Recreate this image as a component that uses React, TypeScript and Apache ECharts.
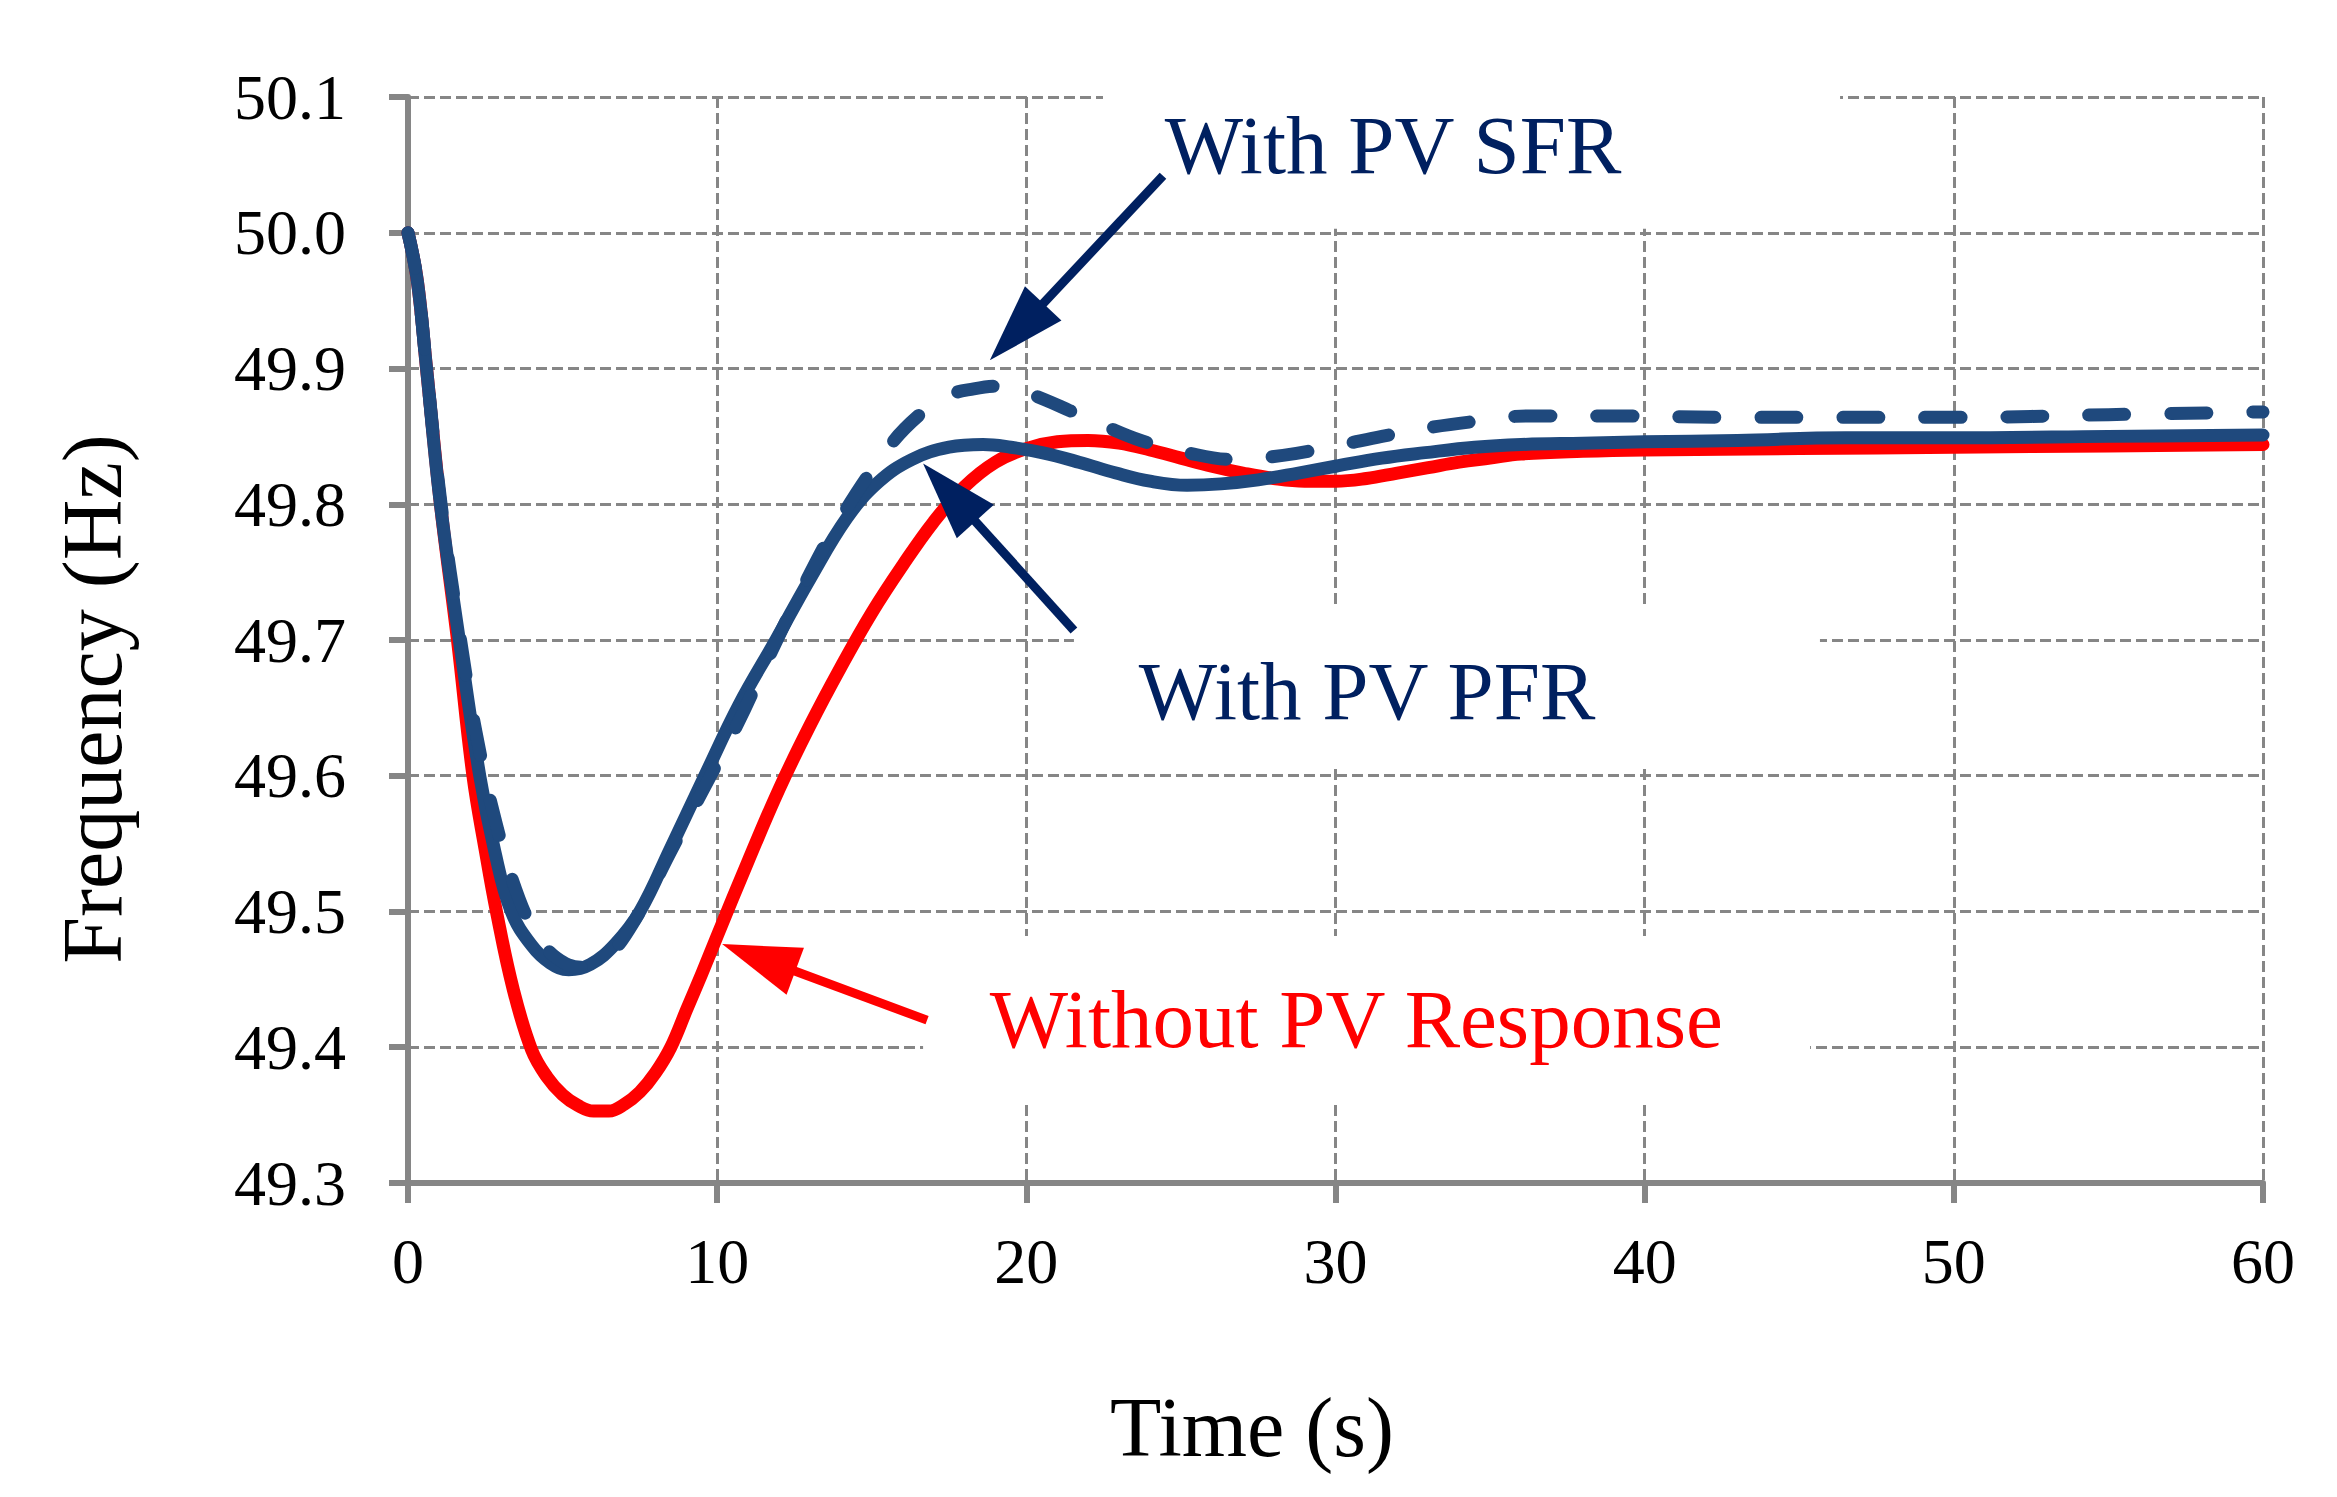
import { useEffect, useRef } from 'react'
import * as echarts from 'echarts'

// Time axis ticks (s) and frequency axis ticks (Hz)
const TIME_MIN = 0
const TIME_MAX = 60
const TIME_STEP = 10
const FREQ_MIN = 49.3
const FREQ_MAX = 50.1
const FREQ_STEP = 0.1

// Without PV Response (red)
const NOPV_T = [0, 0.3, 0.6, 1.05, 1.6, 2.1, 2.5, 2.86, 3.4, 4, 4.5, 5, 5.5, 6, 6.5, 7, 7.5, 8, 8.5, 9, 9.5, 10, 11, 12, 13, 14, 15, 16, 17, 18, 19, 20, 21, 22, 23, 24, 25, 26, 27, 28, 29, 30, 31, 32, 33, 34, 35, 36, 38, 40, 45, 50, 55, 60]
const NOPV_F = [50.0, 49.965, 49.9, 49.8, 49.7, 49.6, 49.545, 49.5, 49.443, 49.398, 49.378, 49.365, 49.357, 49.353, 49.353, 49.358, 49.367, 49.381, 49.4, 49.427, 49.454, 49.482, 49.537, 49.59, 49.637, 49.68, 49.72, 49.755, 49.787, 49.813, 49.831, 49.841, 49.846, 49.847, 49.845, 49.84, 49.834, 49.828, 49.823, 49.819, 49.817, 49.817, 49.819, 49.823, 49.827, 49.831, 49.834, 49.837, 49.839, 49.84, 49.841, 49.842, 49.843, 49.844]

// With PV PFR (solid blue)
const PFR_T = [0, 0.3, 0.6, 1.05, 1.66, 2.32, 2.8, 3.34, 4.0, 4.6, 5.2, 5.9, 6.7, 7.5, 8.5, 9.6, 10.7, 11.9, 13.0, 14.2, 15.2, 16.3, 17.5, 18.6, 19.5, 20.5, 21.7, 22.9, 24.0, 25.2, 26.3, 27.5, 28.8, 30, 31.5, 32.9, 34.5, 36, 38, 40, 43, 46.5, 50, 55, 60]
const PFR_F = [50.0, 49.965, 49.9, 49.8, 49.7, 49.6, 49.545, 49.5, 49.475, 49.462, 49.457, 49.461, 49.476, 49.5, 49.547, 49.6, 49.652, 49.7, 49.745, 49.79, 49.816, 49.833, 49.842, 49.844, 49.842, 49.838, 49.831, 49.823, 49.817, 49.814, 49.815, 49.818, 49.823, 49.828, 49.834, 49.838, 49.842, 49.844, 49.845, 49.846, 49.847, 49.849, 49.849, 49.85, 49.851]

// With PV SFR (dashed blue)
const SFR_T = [0, 0.3, 0.6, 1.07, 1.7, 2.2, 2.86, 3.6, 4.2, 4.8, 5.6, 6.4, 7.27, 8.56, 9.74, 10.7, 11.6, 12.8, 14.0, 15.55, 16.5, 17.46, 18.3, 19.1, 19.9, 20.6, 21.4, 22.5, 23.7, 25.2, 26.7, 28.3, 30, 31.5, 32.9, 34.5, 36.2, 39.4, 42.8, 45.7, 50, 55, 60]
const SFR_F = [50.0, 49.965, 49.9, 49.8, 49.7, 49.632, 49.564, 49.509, 49.482, 49.466, 49.459, 49.466, 49.491, 49.547, 49.598, 49.64, 49.684, 49.74, 49.79, 49.842, 49.865, 49.88, 49.885, 49.887, 49.883, 49.877, 49.869, 49.858, 49.847, 49.838, 49.833, 49.836, 49.843, 49.85, 49.856, 49.861, 49.865, 49.865, 49.864, 49.864, 49.864, 49.866, 49.868]

// Annotations, in data coordinates [time, frequency]
const LABELS = [
  { text: 'With PV SFR', at: [24.48, 50.0646], color: '#002060' },
  { text: 'With PV PFR', at: [23.64, 49.6624], color: '#002060' },
  { text: 'Without PV Response', at: [18.82, 49.421], color: '#FF0000' },
]
const ARROWS = [
  { tail: [24.42, 50.042], tip: [18.82, 49.906], color: '#002060' },
  { tail: [21.54, 49.707], tip: [16.66, 49.83], color: '#002060' },
  { tail: [16.79, 49.42], tip: [10.16, 49.476], color: '#FF0000' },
]
const BOXES = [
  { from: [22.48, 50.109], to: [46.32, 50.003] },
  { from: [21.54, 49.723], to: [45.67, 49.608] },
  { from: [16.66, 49.482], to: [45.35, 49.358] },
]

const FONT = '"Liberation Serif", "Times New Roman", serif'
const GRID_GRAY = '#868686'

const zip = (t: number[], f: number[]) => t.map((v, i) => [v, f[i]])

export default function App() {
  const chartRef = useRef<HTMLDivElement>(null)

  useEffect(() => {
    if (!chartRef.current) return
    const chart = echarts.init(chartRef.current, undefined, { renderer: 'svg' })

    const lineBase = {
      type: 'line' as const,
      showSymbol: false,
      symbol: 'none',
      smooth: 0.4,
      silent: true,
    }

    const option: echarts.EChartsOption = {
      animation: false,
      backgroundColor: '#ffffff',
      grid: { left: 408, right: 74, top: 97, bottom: 314, containLabel: false },
      xAxis: {
        type: 'value',
        min: TIME_MIN,
        max: TIME_MAX,
        interval: TIME_STEP,
        axisLine: { show: true, lineStyle: { color: GRID_GRAY, width: 6 } },
        axisTick: { show: true, inside: false, length: 20, lineStyle: { color: GRID_GRAY, width: 6 } },
        axisLabel: { color: '#000', fontSize: 64, fontFamily: FONT, margin: 46 },
        splitLine: { show: true, lineStyle: { color: GRID_GRAY, width: 3, type: [11, 5] } },
      },
      yAxis: {
        type: 'value',
        min: FREQ_MIN,
        max: FREQ_MAX,
        interval: FREQ_STEP,
        axisLine: { show: true, lineStyle: { color: GRID_GRAY, width: 6 } },
        axisTick: { show: true, inside: false, length: 19, lineStyle: { color: GRID_GRAY, width: 6 } },
        axisLabel: {
          color: '#000',
          fontSize: 64,
          fontFamily: FONT,
          margin: 62,
          formatter: (v: number) => v.toFixed(1),
        },
        splitLine: { show: true, lineStyle: { color: GRID_GRAY, width: 3, type: [11, 5] } },
      },
      series: [
        {
          ...lineBase,
          name: 'Without PV Response',
          data: zip(NOPV_T, NOPV_F),
          lineStyle: { color: '#FF0000', width: 13, cap: 'round', join: 'round' },
          z: 3,
        },
        {
          ...lineBase,
          name: 'With PV PFR',
          data: zip(PFR_T, PFR_F),
          lineStyle: { color: '#1F497D', width: 13, cap: 'round', join: 'round' },
          z: 4,
        },
        {
          ...lineBase,
          name: 'With PV SFR',
          data: zip(SFR_T, SFR_F),
          lineStyle: { color: '#1F497D', width: 13, type: [36, 46], cap: 'round', join: 'round' },
          z: 5,
        },
      ],
    }

    chart.setOption(option)

    const px = (p: number[]) => chart.convertToPixel({ gridIndex: 0 }, p) as number[]

    const graphics: any[] = []

    BOXES.forEach((b) => {
      const a = px(b.from)
      const c = px(b.to)
      graphics.push({
        type: 'rect',
        silent: true,
        z: 1,
        shape: { x: a[0], y: a[1], width: c[0] - a[0], height: c[1] - a[1] },
        style: { fill: '#ffffff' },
      })
    })

    ARROWS.forEach((ar) => {
      const tail = px(ar.tail)
      const tip = px(ar.tip)
      const dx = tip[0] - tail[0]
      const dy = tip[1] - tail[1]
      const len = Math.hypot(dx, dy)
      const ux = dx / len
      const uy = dy / len
      const headLen = 78
      const half = 25
      const bx = tip[0] - ux * headLen
      const by = tip[1] - uy * headLen
      graphics.push({
        type: 'line',
        silent: true,
        z: 10,
        shape: { x1: tail[0], y1: tail[1], x2: bx + ux * 10, y2: by + uy * 10 },
        style: { stroke: ar.color, lineWidth: 9 },
      })
      graphics.push({
        type: 'polygon',
        silent: true,
        z: 10,
        shape: {
          points: [
            [tip[0], tip[1]],
            [bx - uy * half, by + ux * half],
            [bx + uy * half, by - ux * half],
          ],
        },
        style: { fill: ar.color },
      })
    })

    LABELS.forEach((l) => {
      const p = px(l.at)
      graphics.push({
        type: 'text',
        silent: true,
        z: 10,
        x: p[0],
        y: p[1],
        style: {
          text: l.text,
          fill: l.color,
          fontSize: 83,
          fontFamily: FONT,
          align: 'left',
          textAlign: 'left',
          verticalAlign: 'middle',
          textVerticalAlign: 'middle',
        },
      })
    })

    // axis titles
    graphics.push({
      type: 'text',
      silent: true,
      z: 10,
      x: 92,
      y: 699,
      rotation: Math.PI / 2,
      style: {
        text: 'Frequency (Hz)',
        fill: '#000',
        fontSize: 84,
        fontFamily: FONT,
        align: 'center',
        textAlign: 'center',
        verticalAlign: 'middle',
        textVerticalAlign: 'middle',
      },
    })
    graphics.push({
      type: 'text',
      silent: true,
      z: 10,
      x: 1252,
      y: 1427,
      style: {
        text: 'Time (s)',
        fill: '#000',
        fontSize: 84,
        fontFamily: FONT,
        align: 'center',
        textAlign: 'center',
        verticalAlign: 'middle',
        textVerticalAlign: 'middle',
      },
    })

    chart.setOption({ graphic: graphics })

    return () => {
      chart.dispose()
    }
  }, [])

  return (
    <div
      ref={chartRef}
      style={{ position: 'fixed', left: 0, top: 0, width: '2337px', height: '1497px', background: '#fff' }}
    />
  )
}
